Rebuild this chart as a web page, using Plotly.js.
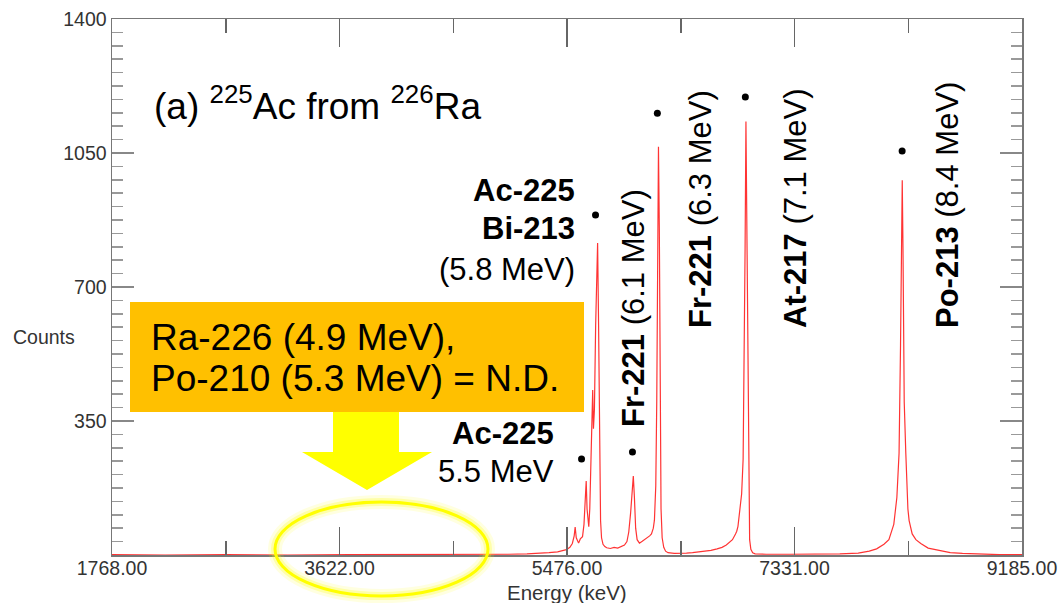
<!DOCTYPE html>
<html>
<head>
<meta charset="utf-8">
<script src="https://cdn.plot.ly/plotly-3.0.1.min.js"></script>
<style>html,body{margin:0;padding:0;background:#fff;}#chart{width:1061px;height:603px;}</style>
</head>
<body>
<div id="chart"></div>
<script>
// ---- Data ----
const energy = [1768, 2200, 2700, 3200, 3700, 4200, 4700, 5000, 5150, 5250, 5330, 5400, 5440, 5472, 5500, 5520, 5535, 5543, 5552, 5562, 5571, 5585, 5603, 5615, 5625, 5633, 5640, 5648, 5654, 5662, 5672, 5680, 5686, 5692, 5700, 5710, 5718, 5726, 5734, 5742, 5750, 5758, 5770, 5785, 5800, 5830, 5860, 5890, 5920, 5945, 5965, 5980, 5995, 6008, 6017, 6026, 6036, 6048, 6067, 6090, 6110, 6130, 6150, 6165, 6180, 6189, 6200, 6208, 6215, 6222, 6229, 6236, 6243, 6252, 6265, 6280, 6300, 6350, 6400, 6450, 6500, 6555, 6600, 6650, 6700, 6740, 6775, 6800, 6825, 6850, 6860, 6870, 6885, 6900, 6912, 6920, 6928, 6935, 6942, 6950, 6958, 6965, 6975, 6990, 7010, 7100, 7300, 7500, 7700, 7850, 7940, 8000, 8060, 8100, 8140, 8165, 8183, 8195, 8203, 8209, 8215, 8225, 8238, 8255, 8265, 8290, 8320, 8360, 8420, 8509, 8600, 8700, 8850, 9000, 9185];
const counts = [1, 0, 1, 0, 1, 1, 2, 2, 3, 4, 6, 8, 11, 14, 20, 30, 50, 73, 45, 38, 31, 42, 48, 80, 140, 193, 120, 85, 74, 120, 260, 380, 431, 330, 380, 600, 740, 815, 600, 250, 90, 45, 28, 22, 19, 17, 20, 18, 22, 26, 35, 60, 110, 170, 206, 150, 70, 40, 31, 36, 40, 45, 50, 55, 70, 91, 180, 400, 800, 1066, 850, 400, 120, 45, 20, 10, 6, 4, 4, 5, 6, 8, 10, 12, 16, 20, 26, 32, 40, 55, 62, 75, 115, 160, 250, 450, 800, 1132, 850, 400, 120, 40, 15, 6, 3, 2, 2, 2, 3, 5, 10, 16, 28, 40, 80, 150, 266, 550, 850, 979, 800, 400, 266, 120, 90, 55, 40, 30, 18, 12, 6, 4, 2, 1, 1];

// peak marker dots
const dotEnergy = [5595, 5709, 6010, 6213, 6930, 8208];
const dotCounts = [251, 888, 269, 1154, 1196, 1055];

// axis ticks
const xTickVals = [1768, 3622.25, 5476.5, 7330.75, 9185];
const xTickText = ["1768.00", "3622.00", "5476.00", "7331.00", "9185.00"];
const xMinorVals = [2695.125, 4549.375, 6403.625, 8257.875];
const yTickVals = [350, 700, 1050, 1400];
const yTickText = ["350", "700", "1050", "1400"];

// labels
const titleText = "(a) <sup>225</sup>Ac from <sup>226</sup>Ra";
const boxLine1 = "Ra-226 (4.9 MeV),";
const boxLine2 = "Po-210 (5.3 MeV) = N.D.";
const rotLabels = ["<b>Fr-221</b> (6.1 MeV)", "<b>Fr-221</b> (6.3 MeV)", "<b>At-217</b> (7.1 MeV)", "<b>Po-213</b> (8.4 MeV)"];

// ---- layout helpers (pixel -> paper) ----
const L = 112, R = 1022, T = 19, B = 555;
const px = x => (x - L) / (R - L);
const py = y => (B - y) / (B - T);
const FONT = "Liberation Sans, Arial, sans-serif";

const traces = [
  {x: energy, y: counts, type: 'scatter', mode: 'lines',
   line: {color: 'rgba(255,0,0,0.8)', width: 1.2}, hoverinfo: 'skip', showlegend: false},
  {x: dotEnergy, y: dotCounts, type: 'scatter', mode: 'markers',
   marker: {color: '#000', size: 7}, hoverinfo: 'skip', showlegend: false}
];

function ann(text, x, y, opts) {
  return Object.assign({text: text, xref: 'paper', yref: 'paper', x: px(x), y: py(y),
    showarrow: false, font: {family: FONT, size: 31, color: '#000'}}, opts || {});
}

const annotations = [
  ann(titleText, 152, 103, {xanchor: 'left', yanchor: 'middle', font: {family: FONT, size: 37, color: '#000'}}),
  ann(boxLine1, 149, 337, {xanchor: 'left', yanchor: 'middle', font: {family: FONT, size: 37, color: '#000'}}),
  ann(boxLine2, 149, 379, {xanchor: 'left', yanchor: 'middle', font: {family: FONT, size: 37, color: '#000'}}),
  ann("<b>Ac-225</b>", 577, 190, {xanchor: 'right', yanchor: 'middle'}),
  ann("<b>Bi-213</b>", 577, 229, {xanchor: 'right', yanchor: 'middle'}),
  ann("(5.8 MeV)", 577, 269, {xanchor: 'right', yanchor: 'middle'}),
  ann("<b>Ac-225</b>", 556, 433, {xanchor: 'right', yanchor: 'middle'}),
  ann("5.5 MeV", 556, 471, {xanchor: 'right', yanchor: 'middle'}),
  ann(rotLabels[0], 633, 308, {xanchor: 'center', yanchor: 'middle', textangle: -90}),
  ann(rotLabels[1], 701, 209, {xanchor: 'center', yanchor: 'middle', textangle: -90}),
  ann(rotLabels[2], 796, 209, {xanchor: 'center', yanchor: 'middle', textangle: -90}),
  ann(rotLabels[3], 948, 205, {xanchor: 'center', yanchor: 'middle', textangle: -90}),
  ann("Counts", 44, 337, {xanchor: 'center', yanchor: 'middle', font: {family: FONT, size: 19.5, color: '#333'}}),
  ann("Energy (keV)", 567, 592, {xanchor: 'center', yanchor: 'middle', font: {family: FONT, size: 20.5, color: '#333'}})
];

function pth(pts) {
  return 'M ' + pts.map(p => px(p[0]).toFixed(5) + ',' + py(p[1]).toFixed(5)).join(' L ') + ' Z';
}

const shapes = [
  {type: 'rect', xref: 'paper', yref: 'paper', x0: px(130), x1: px(584), y0: py(412), y1: py(302),
   fillcolor: '#FFC000', line: {width: 0}, layer: 'above'},
  {type: 'path', xref: 'paper', yref: 'paper',
   path: pth([[333, 412], [399, 412], [399, 452], [432, 452], [367, 490], [302, 452], [333, 452]]),
   fillcolor: '#FFFF00', line: {width: 0}, layer: 'above'},
  {type: 'circle', xref: 'paper', yref: 'paper', x0: px(275), x1: px(488), y0: py(596), y1: py(502),
   line: {color: 'rgba(255,255,0,0.12)', width: 14}, layer: 'above'},
  {type: 'circle', xref: 'paper', yref: 'paper', x0: px(275), x1: px(488), y0: py(596), y1: py(502),
   line: {color: 'rgba(255,255,0,0.25)', width: 8}, layer: 'above'},
  {type: 'circle', xref: 'paper', yref: 'paper', x0: px(275), x1: px(488), y0: py(596), y1: py(502),
   line: {color: '#FFFF00', width: 3}, layer: 'above'}
];

const layout = {
  width: 1061, height: 603,
  margin: {l: L, r: 1061 - R, t: T, b: 603 - B, pad: 0},
  paper_bgcolor: '#fff', plot_bgcolor: '#fff',
  showlegend: false,
  font: {family: FONT, color: '#333'},
  xaxis: {
    range: [1768, 9185], tickmode: 'array', tickvals: xTickVals, ticktext: xTickText,
    ticks: 'inside', ticklen: 28, tickwidth: 1.5, tickcolor: '#666',
    showline: true, linecolor: '#777', linewidth: 1.5, mirror: 'ticks',
    showgrid: false, zeroline: false, tickfont: {family: FONT, size: 19.5, color: '#333'},
    ticklabelstandoff: -5,
    minor: {tickmode: 'array', tickvals: xMinorVals, ticks: 'inside', ticklen: 14, tickwidth: 1.5, tickcolor: '#666', showgrid: false}
  },
  yaxis: {
    range: [0, 1400], tickmode: 'array', tickvals: yTickVals, ticktext: yTickText,
    ticks: 'inside', ticklen: 22, tickwidth: 1.5, tickcolor: '#888',
    showline: true, linecolor: '#777', linewidth: 1.5, mirror: 'ticks',
    showgrid: false, zeroline: false, tickfont: {family: FONT, size: 19.5, color: '#333'},
    minor: {tickmode: 'linear', tick0: 0, dtick: 35, ticks: 'inside', ticklen: 11, tickwidth: 1.5, tickcolor: '#999', showgrid: false}
  },
  annotations: annotations,
  shapes: shapes
};

Plotly.newPlot('chart', traces, layout, {displayModeBar: false, staticPlot: true});
</script>
</body>
</html>
